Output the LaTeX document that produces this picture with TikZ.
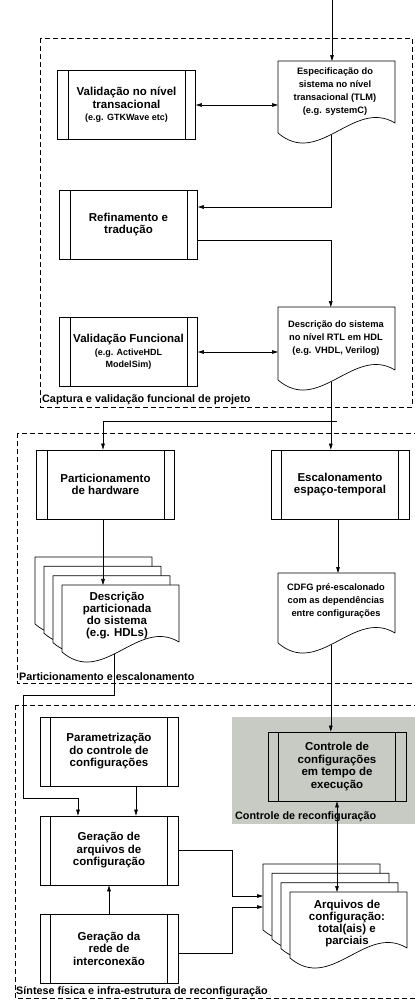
\documentclass[tikz,border=0pt]{standalone}
\usepackage{fontspec}
\setmainfont{Liberation Sans}
\usetikzlibrary{arrows.meta}

\newcommand{\boxfont}{\bfseries\fontsize{11.5}{12.5}\selectfont}
\newcommand{\egfont}{\bfseries\fontsize{9}{11}\selectfont}
\newcommand{\docfont}{\bfseries\fontsize{9.3}{13}\selectfont}
\newcommand{\bigdocfont}{\bfseries\fontsize{11.5}{12}\selectfont}
\newcommand{\lblfont}{\bfseries\fontsize{10.8}{12}\selectfont}
\definecolor{ctrlgray}{RGB}{200,203,196}

% document shape: name, top left corner, height of the right side
\newcommand{\docshape}[4]{%
  \draw[docline] (#2,#3) coordinate (#1-nw) -- ++(117,0) -- ++(0,#4)
    .. controls +(-41,-25) and +(41,35) .. ++(-117,10) coordinate[pos=0.55] (#1-b) -- cycle;}

\begin{document}
\begin{tikzpicture}[x=1pt,y=-1pt,
  proc/.style={draw,line width=0.8pt,minimum width=138pt,minimum height=69pt,inner sep=1pt,
    align=center,font=\boxfont,
    path picture={\draw[line width=0.6pt]
      ([xshift=10.5pt]path picture bounding box.north west) -- ([xshift=10.5pt]path picture bounding box.south west)
      ([xshift=-10.5pt]path picture bounding box.north east) -- ([xshift=-10.5pt]path picture bounding box.south east);}},
  docline/.style={fill=white,line width=0.7pt,line join=round},
  doctxt/.style={align=center,inner sep=1pt,font=\docfont},
  bigdoc/.style={align=center,inner sep=1pt,font=\bigdocfont},
  area/.style={line width=0.6pt,dash pattern=on 5pt off 3pt},
  arealbl/.style={anchor=south west,inner sep=1pt,font=\lblfont},
  arr/.style={line width=0.6pt,-{Triangle[length=6pt,width=3.6pt]}},
  darr/.style={line width=0.6pt,{Triangle[length=6pt,width=3.6pt]}-{Triangle[length=6pt,width=3.6pt]}}]
\useasboundingbox (0,0) rectangle (415,1002);
\fill[white] (0,0) rectangle (415,1002);

% areas
\fill[ctrlgray] (232,717) rectangle (416,824);
\draw[area] (40,38) rectangle (412,407);
\draw[area] (17,433) rectangle (420,683);
\draw[area] (15,705) rectangle (420,998);
\node[arealbl] (capl) at (41,406) {Captura e validação funcional de projeto};
\node[arealbl] (partl) at (18,682) {Particionamento e escalonamento};
\node[arealbl] (ctrll) at (234,823) {Controle de reconfiguração};
\node[arealbl] (sintl) at (15,998) {Síntese física e infra-estrutura de reconfiguração};

% processes
\node[proc] (valtlm) at (126.5,105) {Validação no nível\\transacional\\{\egfont (e.g. GTKWave etc)}};
\node[proc] (refin) at (128.5,224.5) {Refinamento e\\tradução};
\node[proc] (valfun) at (128.5,352) {Validação Funcional\\{\egfont (e.g. ActiveHDL}\\{\egfont ModelSim)}};
\node[proc] (part) at (105.5,484.5) {Particionamento\\de hardware};
\node[proc] (escal) at (340,484.5) {Escalonamento\\espaço-temporal};
\node[proc] (param) at (109,751.5) {Parametrização\\do controle de\\configurações};
\node[proc] (ctrl) at (337,766.5) {Controle de\\configurações\\em tempo de\\execução};
\node[proc] (gerarq) at (109,850.5) {Geração de\\arquivos de\\configuração};
\node[proc] (gerrede) at (109,948.5) {Geração da\\rede de\\interconexão};

% documents
\docshape{sd}{278}{61}{62}
\node[doctxt] (spec) at (335,92) {Especificação do\\sistema no nível\\transacional (TLM)\\(e.g. systemC)};
\docshape{rd}{278}{307}{63}
\node[doctxt] (rtl) at (336,338) {Descrição do sistema\\no nível RTL em HDL\\(e.g. VHDL, Verilog)};
\docshape{cd}{278}{573}{60}
\node[doctxt] (cdfg) at (336,601) {CDFG pré-escalonado\\com as dependências\\entre configurações};
\foreach \k in {0,...,3}
  \docshape{pd\k}{35+9*\k}{557+9.33*\k}{57}
\node[bigdoc] (partd) at (117,616) {Descrição\\particionada\\do sistema\\(e.g. HDLs)};
\foreach \k in {0,...,3}
  \docshape{ad\k}{263+9*\k}{864+9.33*\k}{56}
\node[bigdoc] (arqd) at (347,924) {Arquivos de\\configuração:\\total(ais) e\\parciais};

% connectors
\coordinate (top) at (332,0);
\coordinate (split) at (337,421);
\coordinate (j1) at (232,896);
\coordinate (j2) at (232,907);
\draw[arr] (top) -- (top |- sd-nw);
\draw[darr] (valtlm.east) -- (valtlm.east -| sd-nw);
\draw[arr] (sd-b) |- ([yshift=17.5pt]refin.east);
\draw[arr] ([yshift=-15.5pt]refin.east) -| (sd-b |- rd-nw);
\draw[darr] (valfun.east) -- (valfun.east -| rd-nw);
\draw[arr] (rd-b) -- (rd-b |- escal.north);
\draw[arr] (split) -| ([xshift=-2.5pt]part.north);
\draw[arr] ([xshift=-2.5pt]part.south) -- ([xshift=-2.5pt]part.south |- pd3-nw);
\draw[arr] ([xshift=-2pt]escal.south) -- ([xshift=-2pt]escal.south |- cd-nw);
\draw[arr] (cd-b) -- (cd-b |- ctrl.north);
\draw[arr] (pd3-b) |- (23,695) |- (78,798) -- ([xshift=-31pt]gerarq.north);
\draw[arr] ([xshift=27pt]param.south) -- ([xshift=27pt]gerarq.north);
\draw[arr] (gerrede) -- (gerarq);
\draw[arr] (gerarq.east) -| (j1) -- (j1 -| ad0-nw);
\draw[arr] ([yshift=-4.5pt]gerrede.east) -| (j2) -- (j2 -| ad0-nw);
\draw[darr] (ctrl.south) -- (ctrl.south |- ad3-nw);
\end{tikzpicture}
\end{document}
